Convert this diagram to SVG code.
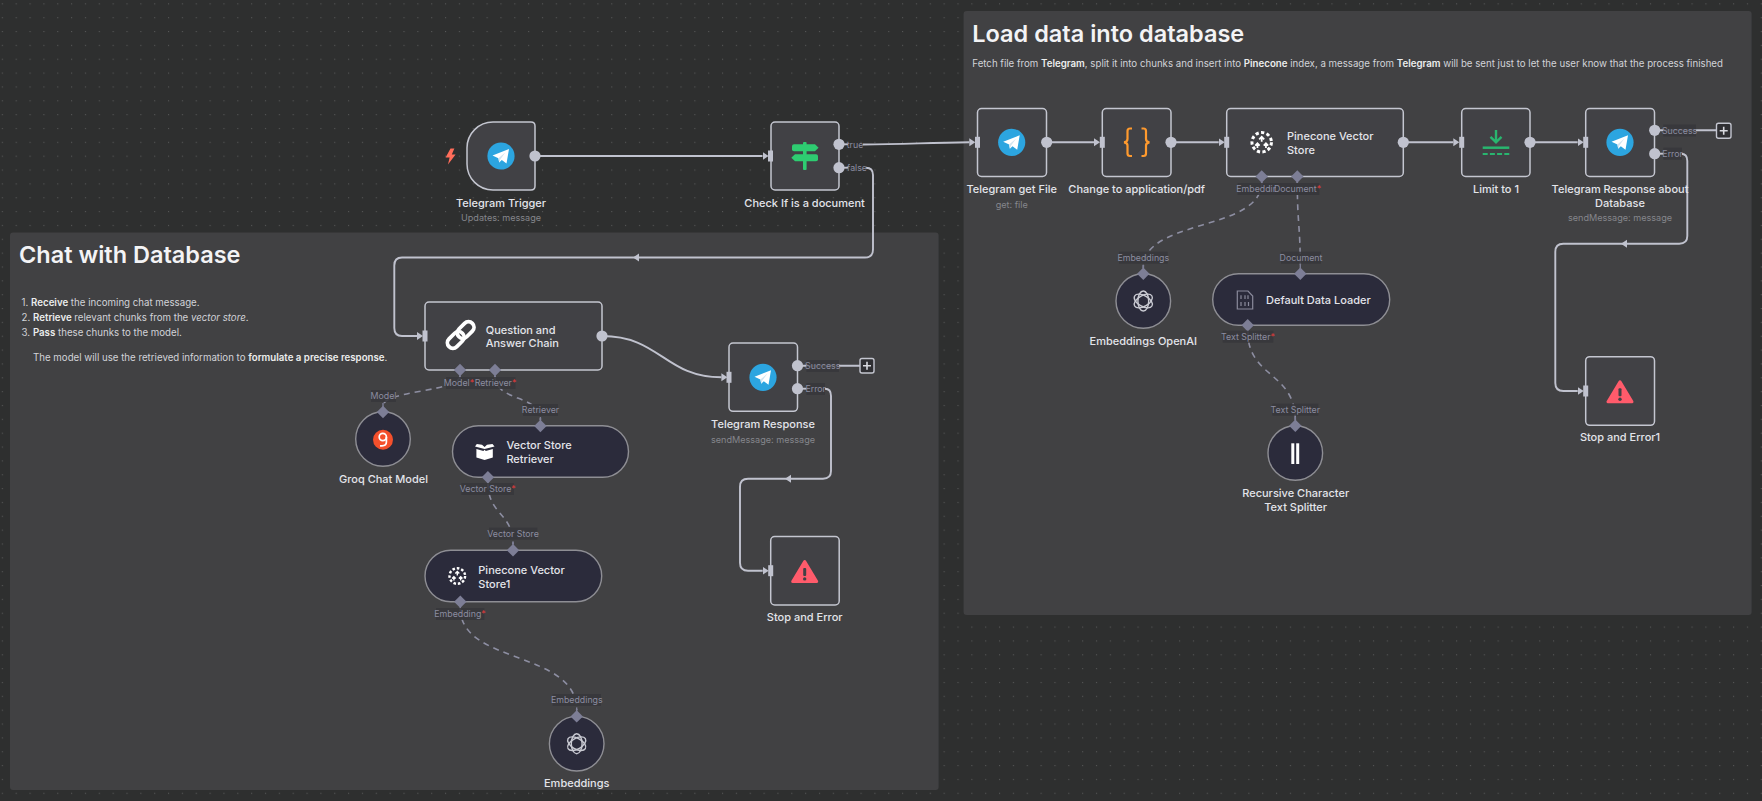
<svg xmlns="http://www.w3.org/2000/svg" width="1762" height="801" viewBox="0 0 1762 801">
<style>
text{font-family:Inter,"Noto Sans","Liberation Sans",sans-serif}
.n{fill:#414145;stroke:#c4c6d0;stroke-width:1.5}
.p{fill:#2b2b3b;stroke:#8e8e94;stroke-width:1.4}
.panel{fill:#414143}
.t{font-size:11px;font-weight:500;fill:#e3e4ea;text-anchor:middle;transform:translateY(.4px)}
.l{font-size:11px;font-weight:500;fill:#e3e4ea;transform:translateY(.4px)}
.s{font-size:9.1px;fill:#85868c;text-anchor:middle;transform:translateY(.3px)}
.pl{font-size:8.8px;fill:#8c8da0;text-anchor:middle}
.a{fill:#e23a3a}
.lb{fill:#37373b;opacity:.88}
.b{font-size:9.7px;fill:#d2d3d8}
.b tspan.m{font-weight:600;fill:#eceded}
.h{font-size:23.5px;font-weight:600;fill:#f3f3f5}
.c{fill:none;stroke:#c0c2ce;stroke-width:1.9}
.d{fill:none;stroke:#8d8ea2;stroke-width:1.6;stroke-dasharray:6 5}
.dot{fill:#c0c2ce}
.in{fill:#c0c2ce}
.di{fill:#7d7e96}
</style>
<defs>
<pattern id="grid" x="1.8" y="3.3" width="13.85" height="13.85" patternUnits="userSpaceOnUse"><rect x="-.1" y="-.1" width="1.2" height="1.2" fill="#565757"/></pattern>
<marker id="arr" markerUnits="userSpaceOnUse" markerWidth="7" markerHeight="10" refX="0" refY="5" orient="auto"><path d="M0 1 L6 5 L0 9Z" fill="#c0c2ce"/></marker>
<g id="tg"><circle r="13.6" fill="#2ca5e0"/><path d="M-8.5 -.5 L8 -7 L5.5 7.5 L.8 4 L-1.8 6.5 L-2.6 2.3Z" fill="#fff"/><path d="M-2.6 2.3 L4.5 -3.8 L-.6 3.3 L-1.8 6.5Z" fill="#d2e5f1"/></g>
<path id="input" d="M-2.5 -5.5 H2.5 V5.5 H-2.5Z" class="in"/>
<g id="port"><rect x="-.7" y="4" width="1.4" height="5" fill="#7d7e96"/><path d="M0 -6.2 L6.2 0 L0 6.2 L-6.2 0Z" class="di"/></g>
<g id="porttop"><rect x="-.7" y="-9" width="1.4" height="5" fill="#7d7e96"/><path d="M0 -6.2 L6.2 0 L0 6.2 L-6.2 0Z" class="di"/></g>
<g id="ai" fill="none" stroke="#c9cad2" stroke-width="1.4"><ellipse rx="5.4" ry="10"/><ellipse rx="5.4" ry="10" transform="rotate(60)"/><ellipse rx="5.4" ry="10" transform="rotate(120)"/></g>
<g id="pine" fill="none" stroke="#fff"><circle r="7.8" stroke-width="2.4" stroke-dasharray="2.6 1.9"/><path d="M0 -4.2 V-.4 M-2 -2.4 L0 -4.4 L2 -2.4 M-3.4 1.2 V4.6 M-5.2 2.6 L-3.4 .8 L-1.6 2.6 M3.4 1.2 V4.6 M1.6 2.6 L3.4 .8 L5.2 2.6" stroke-width="1.4"/></g>
<g id="stop"><path d="M0 -10 L12 10 H-12Z" fill="#ff5b6b" stroke="#ff5b6b" stroke-width="3" stroke-linejoin="round"/><rect x="-1.5" y="-3.5" width="3" height="8" rx="1" fill="#414145"/><circle cy="7.4" r="1.7" fill="#414145"/></g>
</defs>

<rect width="1762" height="801" fill="#2e2f2f"/>
<rect width="1762" height="801" fill="url(#grid)"/>

<g id="sticky-chat">
<rect class="panel" x="10" y="232.5" width="928.6" height="557.5" rx="3"/>
<text class="h" x="19" y="263">Chat with Database</text>
<text class="b" x="21.6" y="305.5">1. <tspan class="m">Receive</tspan> the incoming chat message.</text>
<text class="b" x="21.6" y="320.5">2. <tspan class="m">Retrieve</tspan> relevant chunks from the <tspan font-style="italic">vector store</tspan>.</text>
<text class="b" x="21.6" y="335.5">3. <tspan class="m">Pass</tspan> these chunks to the model.</text>
<text class="b" x="33" y="361.3">The model will use the retrieved information to <tspan class="m">formulate a precise response</tspan>.</text>
</g>
<g id="sticky-load">
<rect class="panel" x="963.6" y="11" width="788" height="604" rx="3"/>
<text class="h" x="972.3" y="41.7">Load data into database</text>
<text class="b" x="972.3" y="66.8">Fetch file from <tspan class="m">Telegram</tspan>, split it into chunks and insert into <tspan class="m">Pinecone</tspan> index, a message from <tspan class="m">Telegram</tspan> will be sent just to let the user know that the process finished</text>
</g>

<g id="connectors">
<path class="c" marker-end="url(#arr)" d="M535 156 H762.5"/>
<path class="c" d="M839 144.3 H848"/>
<path class="c" marker-end="url(#arr)" d="M863 144.5 C905 144 925 143 969.3 142.3"/>
<path class="c" d="M839 167.7 H848"/>
<path class="c" marker-end="url(#arr)" d="M866 167.7 Q873 167.7 873 175 V249.5 Q873 257.5 865 257.5 H402 Q394.3 257.5 394.3 265.5 V328 Q394.3 336 402 336 H417"/>
<path d="M639 253.5 L633 257.5 L639 261.5Z" fill="#c0c2ce"/>
<path class="c" marker-end="url(#arr)" d="M602 336 C660 336 665 377.3 721.4 377.3"/>
<path class="c" d="M797.5 365.7 H860"/>
<path class="c" d="M797.5 388.7 H807"/>
<path class="c" marker-end="url(#arr)" d="M825 388.7 Q831 388.7 831 396 V471 Q831 478.7 823 478.7 H748 Q740 478.7 740 486.7 V562.7 Q740 570.7 748 570.7 H762.7"/>
<path d="M791 474.7 L785 478.7 L791 482.7Z" fill="#c0c2ce"/>
<path class="c" marker-end="url(#arr)" d="M1046.7 142.3 H1094"/>
<path class="c" marker-end="url(#arr)" d="M1171 142.3 H1218.7"/>
<path class="c" marker-end="url(#arr)" d="M1403.3 142.3 H1453.3"/>
<path class="c" marker-end="url(#arr)" d="M1530 142.3 H1577.7"/>
<path class="c" d="M1654.5 130.3 H1716"/>
<path class="c" d="M1654.5 153.7 H1664"/>
<path class="c" marker-end="url(#arr)" d="M1681 153.7 Q1687.3 153.7 1687.3 161 V236 Q1687.3 243.7 1679.3 243.7 H1563.3 Q1555.3 243.7 1555.3 251.7 V383 Q1555.3 391 1563.3 391 H1577.7"/>
<path d="M1627 239.7 L1621 243.7 L1627 247.7Z" fill="#c0c2ce"/>
<path class="d" d="M460 376 C460 392 383 390 383 406"/>
<path class="d" d="M495 376 C495 402 540.4 394 540.4 420"/>
<path class="d" d="M488 483 C488 515 513 513 513 544"/>
<path class="d" d="M460.3 608 C460.3 665 576.7 650 576.7 710"/>
<path class="d" d="M1261.7 182 C1261.7 232 1143.3 218 1143.3 268"/>
<path class="d" d="M1297.3 182 C1297.3 225 1300.3 225 1300.3 268"/>
<path class="d" d="M1247.7 331 C1247.7 378 1295.3 372 1295.3 420"/>
</g>

<g id="telegram-trigger">
<path d="M450.5 148.5 L445.6 157.5 H449.6 L448 164.5 L455.6 154.6 H451.8 L454.4 148.5Z" fill="#ff6d5a"/>
<path class="n" d="M493 122 H531 Q535 122 535 126 V186 Q535 190 531 190 H493 A26 26 0 0 1 467 164 V148 A26 26 0 0 1 493 122Z"/>
<use href="#tg" x="501" y="156"/>
<circle class="dot" cx="535" cy="156" r="5.6"/>
<text class="t" x="501" y="206.3">Telegram Trigger</text>
<text class="s" x="501" y="220.5">Updates: message</text>
</g>

<g id="check-document">
<rect class="n" x="771" y="122" width="68" height="68" rx="4"/>
<use href="#input" x="770.5" y="156"/>
<rect x="803" y="142" width="3.6" height="28" rx="1" fill="#2ecc71"/>
<path d="M794 144.3 H815 L818.6 147.8 L815 151.3 H794 Q792 151.3 792 149.3 V146.3 Q792 144.3 794 144.3Z" fill="#2ecc71"/>
<path d="M795 154.3 H816 Q818 154.3 818 156.3 V159.3 Q818 161.3 816 161.3 H795 L791.3 157.8Z" fill="#2ecc71"/>
<circle class="dot" cx="839" cy="144.3" r="5.6"/>
<circle class="dot" cx="839" cy="167.7" r="5.6"/>
<text class="pl" x="855" y="147.5">true</text>
<text class="pl" x="857" y="170.9">false</text>
<text class="t" x="804.6" y="206.3">Check If is a document</text>
</g>

<g id="qa-chain">
<rect class="n" x="425" y="302" width="177" height="68" rx="4"/>
<use href="#input" x="425" y="336"/>
<g transform="translate(460.7 335) rotate(-45)" fill="none" stroke="#fff" stroke-width="3.8"><rect x="-16.5" y="-5.5" width="19" height="11" rx="5.5"/><rect x="-2.5" y="-5.5" width="19" height="11" rx="5.5"/></g>
<text class="l" x="485.7" y="333.3">Question and</text>
<text class="l" x="485.7" y="346.3">Answer Chain</text>
<circle class="dot" cx="602" cy="336" r="5.6"/>
<use href="#port" x="460" y="370"/>
<use href="#port" x="495" y="370"/>
<rect class="lb" x="446" y="377" width="30" height="12"/>
<text class="pl" x="459" y="386">Model<tspan class="a">*</tspan></text>
<rect class="lb" x="476" y="377" width="39.5" height="12"/>
<text class="pl" x="495.5" y="386">Retriever<tspan class="a">*</tspan></text>
</g>

<g id="groq-model">
<circle class="p" cx="383" cy="439" r="27.3"/>
<use href="#porttop" x="383" y="412"/>
<rect class="lb" x="371" y="390" width="25" height="12"/>
<text class="pl" x="383.5" y="399">Model</text>
<circle cx="383" cy="439.7" r="10" fill="#f4502c"/>
<circle cx="382.8" cy="437" r="3.6" fill="none" stroke="#fff" stroke-width="1.7"/>
<path d="M386.4 437 V442 Q386.4 445.8 382 445.8 H380" fill="none" stroke="#fff" stroke-width="1.7"/>
<text class="t" x="383.5" y="482.3">Groq Chat Model</text>
</g>

<g id="vector-retriever">
<rect class="p" x="452.5" y="425.7" width="176" height="51.6" rx="25.8"/>
<use href="#porttop" x="540.4" y="426"/>
<rect class="lb" x="523" y="404" width="35" height="12"/>
<text class="pl" x="540.5" y="413">Retriever</text>
<path d="M475 446.5 L484.6 449 L494.5 446.5 L492.5 444 L487 444.7 L484.6 447 L482 444.7 L476.8 444Z M476.4 449 L483.4 451 L484.6 449.8 L485.8 451 L492.8 449 V457.5 L484.6 460 L476.4 457.5Z" fill="#fff"/>
<text class="l" x="506.4" y="448.3">Vector Store</text>
<text class="l" x="506.4" y="462.3">Retriever</text>
<use href="#port" x="487.9" y="477.3"/>
<rect class="lb" x="461.4" y="483" width="52.6" height="12"/>
<text class="pl" x="487.7" y="492">Vector Store<tspan class="a">*</tspan></text>
</g>

<g id="pinecone-store1">
<rect class="p" x="425" y="550.3" width="176.7" height="51.4" rx="25.7"/>
<use href="#porttop" x="513" y="550.3"/>
<rect class="lb" x="489" y="527.7" width="48.3" height="12"/>
<text class="pl" x="513" y="536.9">Vector Store</text>
<use href="#pine" transform="translate(457.3 576)"/>
<text class="l" x="478.3" y="573.3">Pinecone Vector</text>
<text class="l" x="478.3" y="587.3">Store1</text>
<use href="#port" x="460.3" y="601.7"/>
<rect class="lb" x="436" y="608" width="48.3" height="12"/>
<text class="pl" x="460" y="617.2">Embedding<tspan class="a">*</tspan></text>
</g>

<g id="embeddings">
<circle class="p" cx="576.7" cy="743.7" r="27.3"/>
<use href="#porttop" x="576.7" y="716.4"/>
<rect class="lb" x="552.7" y="694" width="48.3" height="12"/>
<text class="pl" x="576.8" y="703.2">Embeddings</text>
<use href="#ai" transform="translate(576.7 743.7)"/>
<text class="t" x="576.7" y="786.3">Embeddings</text>
</g>

<g id="telegram-response">
<rect class="n" x="729" y="343" width="68.5" height="68.3" rx="4"/>
<use href="#input" x="729" y="377.3"/>
<use href="#tg" x="763" y="377.3"/>
<circle class="dot" cx="797.5" cy="365.7" r="5.6"/>
<circle class="dot" cx="797.5" cy="388.7" r="5.6"/>
<rect class="lb" x="806.4" y="360" width="32.6" height="12"/>
<text class="pl" x="822.7" y="368.9">Success</text>
<rect class="lb" x="806.4" y="383" width="18.6" height="12"/>
<text class="pl" x="815.7" y="391.9">Error</text>
<g><rect x="860" y="358.5" width="14" height="14.5" rx="2" fill="#2f2f33" stroke="#c4c6d0" stroke-width="1.4"/><path d="M867 361.8 V369.8 M863 365.8 H871" stroke="#d8d9df" stroke-width="1.6"/></g>
<text class="t" x="763" y="427.3">Telegram Response</text>
<text class="s" x="763" y="442.5">sendMessage: message</text>
</g>

<g id="stop-error">
<rect class="n" x="770.7" y="536.5" width="68.5" height="68.5" rx="4"/>
<use href="#input" x="770.7" y="570.7"/>
<use href="#stop" transform="translate(804.7 571.5)"/>
<text class="t" x="804.7" y="620.3">Stop and Error</text>
</g>

<g id="telegram-get-file">
<rect class="n" x="977.5" y="108.5" width="69" height="68" rx="4"/>
<use href="#input" x="977.5" y="142.3"/>
<use href="#tg" x="1011.7" y="142.3"/>
<circle class="dot" cx="1046.7" cy="142.3" r="5.6"/>
<text class="t" x="1011.7" y="192.3">Telegram get File</text>
<text class="s" x="1011.7" y="207.5">get: file</text>
</g>

<g id="change-pdf">
<rect class="n" x="1102.3" y="108.5" width="68.7" height="68" rx="4"/>
<use href="#input" x="1102.3" y="142.3"/>
<path d="M1132 128.5 H1130 Q1127.5 128.5 1127.5 131 V139 Q1127.5 142 1124 142.3 Q1127.5 142.6 1127.5 145.6 V153.5 Q1127.5 156 1130 156 H1132 M1141.5 128.5 H1143.5 Q1146 128.5 1146 131 V139 Q1146 142 1149.5 142.3 Q1146 142.6 1146 145.6 V153.5 Q1146 156 1143.5 156 H1141.5" fill="none" stroke="#ff9a2e" stroke-width="2.2"/>
<circle class="dot" cx="1171" cy="142.3" r="5.6"/>
<text class="t" x="1136.7" y="192.3">Change to application/pdf</text>
</g>

<g id="pinecone-store">
<rect class="n" x="1226.7" y="108.5" width="176.6" height="68" rx="4"/>
<use href="#input" x="1226.7" y="142.3"/>
<use href="#pine" transform="translate(1261.7 142.3) scale(1.25)"/>
<text class="l" x="1287" y="139.3">Pinecone Vector</text>
<text class="l" x="1287" y="153.3">Store</text>
<circle class="dot" cx="1403.3" cy="142.3" r="5.6"/>
<use href="#port" x="1261.7" y="176.5"/>
<use href="#port" x="1297.3" y="176.5"/>
<rect class="lb" x="1237.7" y="183" width="48" height="12"/>
<text class="pl" x="1262" y="192.2">Embedding<tspan class="a">*</tspan></text>
<rect x="1275.7" y="183" width="43.6" height="12" fill="#37373b"/>
<text class="pl" x="1297.5" y="192.2">Document<tspan class="a">*</tspan></text>
</g>

<g id="limit">
<rect class="n" x="1461.7" y="108.5" width="68.3" height="68" rx="4"/>
<use href="#input" x="1461.7" y="142.3"/>
<path d="M1496 130 V142 M1490.5 136.8 L1496 142.3 L1501.5 136.8" fill="none" stroke="#29b56f" stroke-width="2.4"/>
<path d="M1482.7 147.7 H1509.3" stroke="#29b56f" stroke-width="2.5"/>
<path d="M1482.7 154 H1509.3" stroke="#29b56f" stroke-width="2.2" stroke-dasharray="5 2.2"/>
<circle class="dot" cx="1530" cy="142.3" r="5.6"/>
<text class="t" x="1496" y="192.3">Limit to 1</text>
</g>

<g id="telegram-response-db">
<rect class="n" x="1585.7" y="108.5" width="68.8" height="68" rx="4"/>
<use href="#input" x="1585.7" y="142.3"/>
<use href="#tg" x="1620" y="142.3"/>
<circle class="dot" cx="1654.7" cy="130.3" r="5.6"/>
<circle class="dot" cx="1654.7" cy="153.7" r="5.6"/>
<rect class="lb" x="1663.3" y="124.5" width="32.7" height="12"/>
<text class="pl" x="1679.6" y="133.5">Success</text>
<rect class="lb" x="1663.3" y="147.7" width="18.7" height="12"/>
<text class="pl" x="1672.6" y="156.9">Error</text>
<g><rect x="1716.5" y="123.3" width="14.5" height="15" rx="2" fill="#2f2f33" stroke="#c4c6d0" stroke-width="1.4"/><path d="M1723.7 126.8 V134.8 M1719.7 130.8 H1727.7" stroke="#d8d9df" stroke-width="1.6"/></g>
<text class="t" x="1620" y="192.3">Telegram Response about</text>
<text class="t" x="1620" y="206.3">Database</text>
<text class="s" x="1620" y="220.5">sendMessage: message</text>
</g>

<g id="embeddings-openai">
<circle class="p" cx="1143.3" cy="301" r="27.3"/>
<use href="#porttop" x="1143.3" y="273.7"/>
<rect class="lb" x="1119" y="251.7" width="48.7" height="12"/>
<text class="pl" x="1143.3" y="261">Embeddings</text>
<use href="#ai" transform="translate(1143.3 301)"/>
<text class="t" x="1143.3" y="344.3">Embeddings OpenAI</text>
</g>

<g id="default-loader">
<rect class="p" x="1212.7" y="273.7" width="177" height="51.6" rx="25.8"/>
<use href="#porttop" x="1300.3" y="273.7"/>
<rect class="lb" x="1281" y="251.7" width="40" height="12"/>
<text class="pl" x="1301" y="261">Document</text>
<path d="M1237.3 291 H1248 L1252.7 296 V309 H1237.3Z M1241 295.2 V299 M1245 295.2 V299 M1241 302 V306 M1245 302 V306 M1248 295.2 V299 M1248.5 302 V306" fill="none" stroke="#8a8a9c" stroke-width="1.2"/>
<text class="l" x="1266" y="303.3">Default Data Loader</text>
<use href="#port" x="1247.7" y="325.3"/>
<rect class="lb" x="1222.7" y="330.7" width="50.6" height="12"/>
<text class="pl" x="1248" y="340">Text Splitter<tspan class="a">*</tspan></text>
</g>

<g id="recursive-splitter">
<circle class="p" cx="1295.3" cy="453" r="27.3"/>
<use href="#porttop" x="1295.3" y="425.7"/>
<rect class="lb" x="1272.3" y="403.7" width="46" height="12"/>
<text class="pl" x="1295.3" y="413">Text Splitter</text>
<rect x="1291.3" y="443.3" width="3" height="20.7" fill="#fff"/>
<rect x="1296.2" y="443.3" width="3" height="20.7" fill="#fff"/>
<text class="t" x="1295.7" y="496.3">Recursive Character</text>
<text class="t" x="1295.7" y="510.3">Text Splitter</text>
</g>

<g id="stop-error1">
<rect class="n" x="1585.7" y="356.7" width="68.8" height="68.6" rx="4"/>
<use href="#input" x="1585.7" y="391"/>
<use href="#stop" transform="translate(1620 391.8)"/>
<text class="t" x="1620" y="440.3">Stop and Error1</text>
</g>
</svg>
